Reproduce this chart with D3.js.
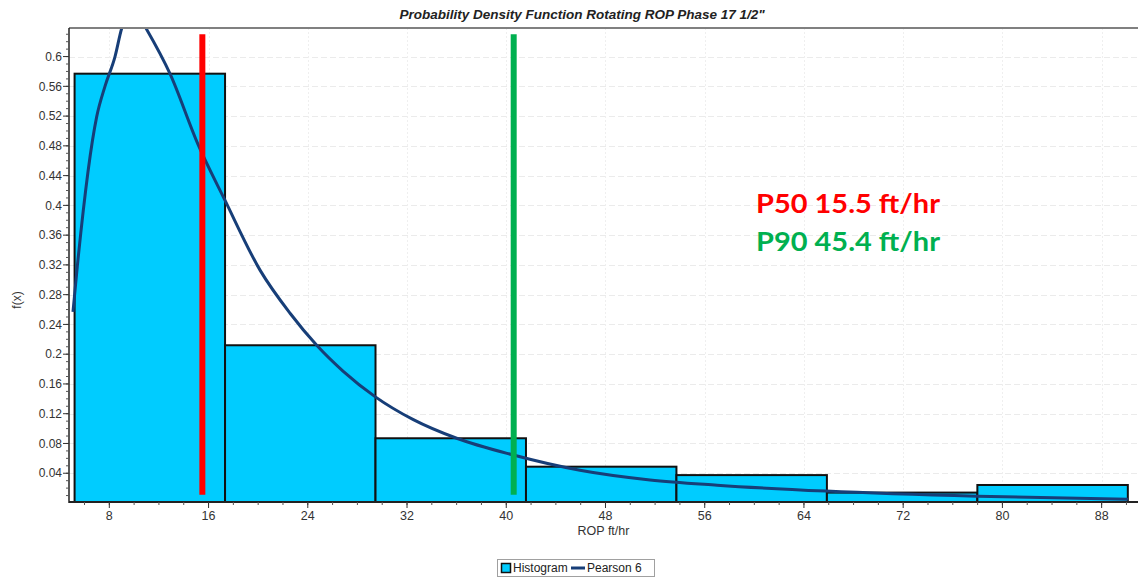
<!DOCTYPE html>
<html>
<head>
<meta charset="utf-8">
<script src="https://cdn.jsdelivr.net/npm/d3@7"></script>
<style>
  html, body { margin: 0; padding: 0; background: #fff; }
  svg { display: block; }
</style>
</head>
<body>
<svg id="chart" width="1138" height="579"></svg>
<script>
// ---------- DATA ----------
const binEdges = [5.2, 17.33, 29.46, 41.59, 53.72, 65.85, 77.98, 90.11];
const binHeights = [0.577, 0.212, 0.087, 0.0488, 0.0375, 0.014, 0.0242];

const curveX = [5.07, 5.42, 6.98, 7.65, 8.46, 9.0, 9.99, 10.96, 12.89, 15.15, 17.32, 20.15, 22.57, 24.72, 26.86, 29.42, 32.51, 36.0, 40.57, 45.94, 51.59, 57.0, 65.77, 77.95, 90.12];
const curveY = [0.257, 0.318, 0.519, 0.56, 0.60, 0.638, 0.665, 0.638, 0.577, 0.482, 0.407, 0.313, 0.255, 0.212, 0.177, 0.143, 0.112, 0.087, 0.0645, 0.044, 0.031, 0.024, 0.016, 0.009, 0.005];

const xTicks = [8, 16, 24, 32, 40, 48, 56, 64, 72, 80, 88];
const yTicks = [0.04, 0.08, 0.12, 0.16, 0.2, 0.24, 0.28, 0.32, 0.36, 0.4, 0.44, 0.48, 0.52, 0.56, 0.6];
const yTickLabels = ["0.04", "0.08", "0.12", "0.16", "0.2", "0.24", "0.28", "0.32", "0.36", "0.4", "0.44", "0.48", "0.52", "0.56", "0.6"];

const p50Value = 15.5;
const p90Value = 40.6;
const markerLineRange = [0.011, 0.63];

const titleText = "Probability Density Function Rotating ROP Phase 17 1/2\"";
const xLabel = "ROP ft/hr";
const yLabel = "f(x)";
const annotations = ["P50 15.5 ft/hr", "P90 45.4 ft/hr"];
const legendLabels = ["Histogram", "Pearson 6"];

// ---------- LAYOUT ----------
const svg = d3.select("#chart");
const plot = { left: 69, right: 1138, top: 28, bottom: 503 };

const x = d3.scaleLinear().domain([4.75, 90.93]).range([plot.left, plot.right]);
const y = d3.scaleLinear().domain([0, 0.6384]).range([plot.bottom, plot.top]);

const font = "'Liberation Sans', Arial, sans-serif";

// clip
svg.append("defs").append("clipPath").attr("id", "clip")
  .append("rect").attr("x", plot.left).attr("y", plot.top)
  .attr("width", plot.right - plot.left).attr("height", plot.bottom - plot.top);

// grid
const grid = svg.append("g");
grid.selectAll("line.h").data(yTicks).enter().append("line")
  .attr("x1", plot.left).attr("x2", plot.right)
  .attr("y1", d => Math.round(y(d)) + 0.5).attr("y2", d => Math.round(y(d)) + 0.5)
  .attr("stroke", "#ebebeb").attr("stroke-width", 1).attr("stroke-dasharray", "6,3");
grid.selectAll("line.v").data(xTicks).enter().append("line")
  .attr("x1", d => Math.round(x(d)) + 0.5).attr("x2", d => Math.round(x(d)) + 0.5)
  .attr("y1", plot.top).attr("y2", plot.bottom)
  .attr("stroke", "#efefef").attr("stroke-width", 1).attr("stroke-dasharray", "2,2");

// bars
const bins = binHeights.map((h, i) => ({ x0: binEdges[i], x1: binEdges[i + 1], h }));
svg.append("g").attr("clip-path", "url(#clip)")
  .selectAll("rect").data(bins).enter().append("rect")
  .attr("x", d => x(d.x0)).attr("width", d => x(d.x1) - x(d.x0))
  .attr("y", d => y(d.h)).attr("height", d => y(0) - y(d.h))
  .attr("fill", "#00CCFF").attr("stroke", "#111").attr("stroke-width", 2);

// curve
const curvePts = curveX.map((v, i) => [v, curveY[i]]);
svg.append("path").attr("clip-path", "url(#clip)")
  .datum(curvePts)
  .attr("d", d3.line().x(d => x(d[0])).y(d => y(d[1])).curve(d3.curveMonotoneX))
  .attr("fill", "none").attr("stroke", "#173e78").attr("stroke-width", 3);

// P50 / P90 lines
svg.append("line")
  .attr("x1", x(p50Value)).attr("x2", x(p50Value))
  .attr("y1", y(markerLineRange[1])).attr("y2", y(markerLineRange[0]))
  .attr("stroke", "#FF0000").attr("stroke-width", 6);
svg.append("line")
  .attr("x1", x(p90Value)).attr("x2", x(p90Value))
  .attr("y1", y(markerLineRange[1])).attr("y2", y(markerLineRange[0]))
  .attr("stroke", "#00B050").attr("stroke-width", 6);

// top border
svg.append("line").attr("x1", plot.left).attr("x2", plot.right)
  .attr("y1", plot.top).attr("y2", plot.top)
  .attr("stroke", "#808080").attr("stroke-width", 2);

// y axis
const yMinor = d3.range(0.01, 0.635, 0.01);
const yAxisG = svg.append("g").attr("transform", `translate(${plot.left},0)`);
yAxisG.append("line").attr("x1", 0).attr("x2", 0).attr("y1", plot.top).attr("y2", plot.bottom)
  .attr("stroke", "#222").attr("stroke-width", 1.5);
yAxisG.selectAll("line.minor").data(yMinor).enter().append("line")
  .attr("x1", -3).attr("x2", 0).attr("y1", d => y(d)).attr("y2", d => y(d))
  .attr("stroke", "#555").attr("stroke-width", 1);
yAxisG.selectAll("line.major").data(yTicks).enter().append("line")
  .attr("x1", -6).attr("x2", 0).attr("y1", d => y(d)).attr("y2", d => y(d))
  .attr("stroke", "#333").attr("stroke-width", 1);
yAxisG.selectAll("text").data(yTicks).enter().append("text")
  .attr("x", -7).attr("y", d => y(d)).attr("dy", "0.35em")
  .attr("text-anchor", "end").attr("font-family", font).attr("font-size", 12)
  .attr("fill", "#333").text((d, i) => yTickLabels[i]);

// x axis
const xMinor = d3.range(6, 91, 2);
const xAxisG = svg.append("g").attr("transform", `translate(0,${plot.bottom - 1})`);
xAxisG.append("line").attr("x1", plot.left).attr("x2", plot.right).attr("y1", 0).attr("y2", 0)
  .attr("stroke", "#222").attr("stroke-width", 2);
xAxisG.selectAll("line.minor").data(xMinor).enter().append("line")
  .attr("x1", d => x(d)).attr("x2", d => x(d)).attr("y1", 0).attr("y2", 3)
  .attr("stroke", "#555").attr("stroke-width", 1);
xAxisG.selectAll("line.major").data(xTicks).enter().append("line")
  .attr("x1", d => x(d)).attr("x2", d => x(d)).attr("y1", 0).attr("y2", 6)
  .attr("stroke", "#333").attr("stroke-width", 1);
xAxisG.selectAll("text").data(xTicks).enter().append("text")
  .attr("x", d => x(d)).attr("y", 18)
  .attr("text-anchor", "middle").attr("font-family", font).attr("font-size", 12.5)
  .attr("fill", "#333").text(d => d);

// axis labels
svg.append("text").attr("x", (plot.left + plot.right) / 2).attr("y", 535)
  .attr("text-anchor", "middle").attr("font-family", font).attr("font-size", 12.5)
  .attr("fill", "#333").text(xLabel);
svg.append("text").attr("transform", "translate(21,300) rotate(-90)")
  .attr("text-anchor", "middle").attr("font-family", font).attr("font-size", 12)
  .attr("fill", "#333").text(yLabel);

// title
svg.append("text").attr("x", 582).attr("y", 19)
  .attr("text-anchor", "middle").attr("font-family", font).attr("font-size", 13.5)
  .attr("font-weight", "bold").attr("font-style", "italic").attr("fill", "#222")
  .text(titleText);

// annotations
svg.append("text").attr("x", 756).attr("y", 213)
  .attr("font-family", "Lato, 'Open Sans', sans-serif").attr("font-size", 27).attr("font-weight", "bold")
  .attr("textLength", 184).attr("lengthAdjust", "spacingAndGlyphs")
  .attr("fill", "#FF0000").text(annotations[0]);
svg.append("text").attr("x", 756).attr("y", 251)
  .attr("font-family", "Lato, 'Open Sans', sans-serif").attr("font-size", 27).attr("font-weight", "bold")
  .attr("textLength", 184).attr("lengthAdjust", "spacingAndGlyphs")
  .attr("fill", "#00B050").text(annotations[1]);

// legend
const lg = svg.append("g");
lg.append("rect").attr("x", 497.5).attr("y", 559.5).attr("width", 157).attr("height", 17)
  .attr("fill", "#fff").attr("stroke", "#a0a0a0").attr("stroke-width", 1);
lg.append("rect").attr("x", 501.5).attr("y", 563.5).attr("width", 9).attr("height", 9)
  .attr("fill", "#00CCFF").attr("stroke", "#111").attr("stroke-width", 1.5);
lg.append("text").attr("x", 513).attr("y", 572).attr("font-family", font).attr("font-size", 12)
  .attr("fill", "#222").text(legendLabels[0]);
lg.append("line").attr("x1", 571).attr("x2", 585).attr("y1", 568).attr("y2", 568)
  .attr("stroke", "#173e78").attr("stroke-width", 3);
lg.append("text").attr("x", 587).attr("y", 572).attr("font-family", font).attr("font-size", 12)
  .attr("fill", "#222").text(legendLabels[1]);
</script>
</body>
</html>
